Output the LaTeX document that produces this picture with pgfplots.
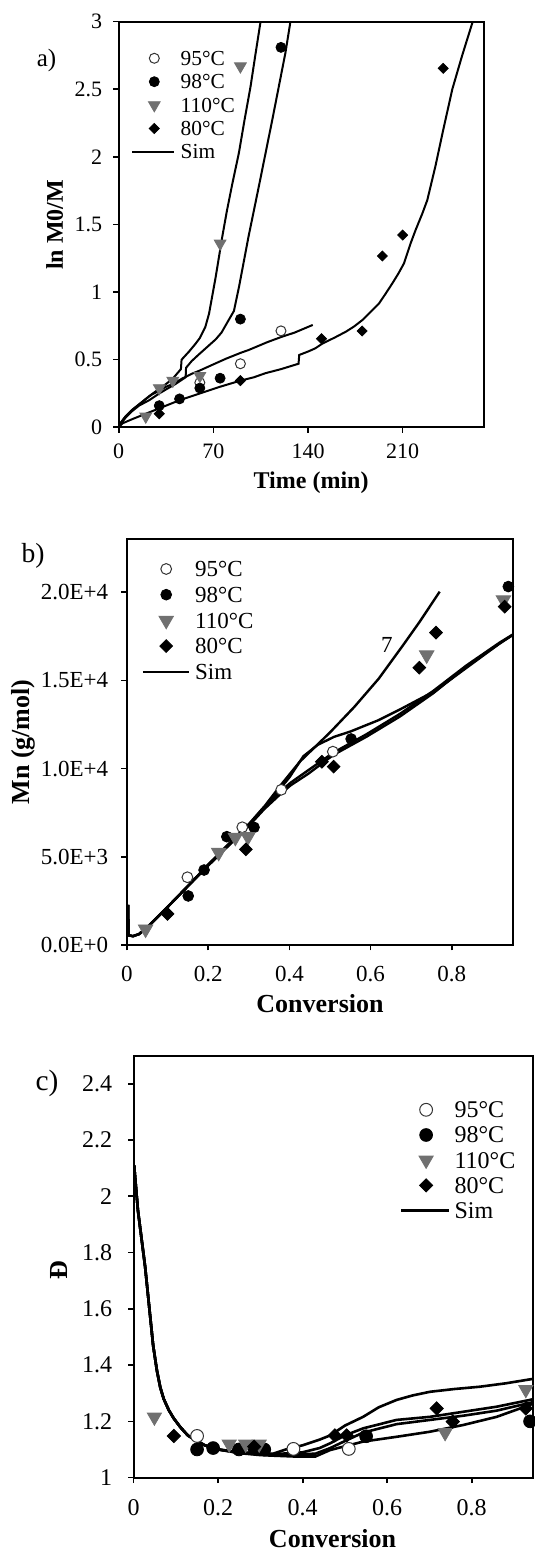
\documentclass[border=0pt]{standalone}
\usepackage{pgfplots}
\pgfplotsset{compat=1.18}
\usepackage{fontspec}
\setmainfont{Liberation Serif}
\definecolor{trigray}{RGB}{112,112,112}
\pgfplotsset{
  base/.style={scale only axis, axis line style={line width=1pt},
    tick style={black, line width=0.8pt}, tick align=outside, major tick length=2.75pt,
    tick pos=left, /pgf/number format/assume math mode=true,
    xticklabel style={anchor=north, inner sep=0pt},
    yticklabel style={anchor=east, inner sep=0pt},
    scaled ticks=false, legend cell align=left},
  lgm/.style={legend image code/.code={\draw[##1] plot coordinates {(#1,0pt)};}},
  lgl/.style={legend image code/.code={\draw[##1] (0pt,0pt) -- (#1,0pt);}},
  oc/.style={only marks, mark=*, mark size=#1, mark options={fill=white, draw=black!80, line width=0.5pt}},
  fc/.style={only marks, mark=*, mark size=#1, mark options={fill=black, draw=black}},
  tr/.style={only marks, mark=triangle*, mark size=#1, mark options={rotate=180, fill=trigray, draw=trigray}},
  dm/.style={only marks, mark=square*, mark size=#1, mark options={rotate=45, fill=black, draw=black}},
}
\begin{document}
\begin{tikzpicture}
\useasboundingbox (0pt,0pt) rectangle (267.5pt,776pt);
% ---------------- panel a
\begin{axis}[base, at={(59.35pt,562.35pt)}, anchor=south west,
  width=182.55pt, height=202.8pt, xmin=0, xmax=270, ymin=0, ymax=3,
  xtick={0,70,140,210}, ytick={0,0.5,1,1.5,2,2.5,3},
  tick label style={font=\fontsize{11}{13}\selectfont},
  xticklabel style={yshift=-5.5pt}, yticklabel style={xshift=-5.4pt},
  xlabel={Time (min)}, ylabel={ln M0/M},
  xlabel style={at={(axis description cs:0.527,-0.137)}, anchor=center, font=\fontsize{12}{14}\selectfont\bfseries},
  ylabel style={at={(axis description cs:-0.1756,0.499)}, anchor=center, font=\fontsize{12}{14}\selectfont\bfseries},
  legend style={draw=none, fill=none, at={(axis description cs:0.0337,0.9386)}, anchor=north west,
    inner sep=0pt, outer sep=0pt, row sep=0pt, column sep=3pt, font=\fontsize{10.7}{12}\selectfont,
    nodes={inner sep=0pt, text height=9.39pt, text depth=2.31pt}},
]
\addplot[black, line width=1pt, forget plot] coordinates {(0,0) (2,0.04) (5,0.08) (9,0.12) (13,0.15) (18,0.19) (22.5,0.23) (28,0.27) (35,0.32) (40,0.36) (46,0.43) (46.5,0.50) (52,0.56) (57,0.62) (60,0.66) (64,0.74) (66.8,0.84) (71.7,1.11) (76.6,1.41) (80,1.60) (84,1.80) (88.9,2.03) (93,2.27) (97.5,2.52) (101,2.75) (104.9,3.0)};
\addplot[black, line width=1pt, forget plot] coordinates {(0,0) (2,0.03) (5,0.07) (10,0.12) (15,0.16) (22.5,0.20) (30,0.25) (35,0.28) (42,0.32) (49.5,0.37) (49.8,0.44) (54,0.49) (59.4,0.54) (65,0.59) (71.7,0.65) (76,0.70) (80,0.77) (85.2,0.86) (89,1.04) (96,1.41) (103.6,1.78) (113.5,2.27) (123.3,2.77) (127,3.0)};
\addplot[black, line width=1pt, forget plot] coordinates {(0,0) (2,0.04) (5,0.08) (10,0.13) (15,0.17) (20,0.21) (25,0.245) (30,0.27) (35,0.30) (40,0.32) (47.2,0.362) (55,0.40) (60,0.42) (71.7,0.473) (80,0.51) (90,0.55) (96.2,0.572) (110,0.63) (120.8,0.67) (130,0.70) (143.5,0.757)};
\addplot[black, line width=1pt, forget plot] coordinates {(0,0) (3,0.03) (10,0.06) (20,0.10) (30,0.14) (45,0.20) (60,0.25) (75,0.30) (90,0.345) (100,0.37) (108.5,0.40) (120,0.43) (133,0.47) (133.5,0.535) (140,0.56) (145.4,0.584) (150.8,0.62) (160,0.665) (168,0.707) (174,0.745) (180.3,0.794) (186,0.85) (192.6,0.917) (197.5,0.99) (202.4,1.065) (207,1.14) (211,1.213) (215.9,1.361) (219.6,1.46) (224.5,1.58) (228.2,1.68) (234.2,1.93) (240,2.2) (246.7,2.5) (254,2.75) (261.8,3.0)};
\addplot[oc=2.5pt, lgm=11.15pt] coordinates {(60,0.33) (90,0.47) (120,0.713)};
\addlegendentry{95°C}
\addplot[fc=2.5pt, lgm=11.15pt] coordinates {(30,0.16) (45,0.21) (60,0.29) (75,0.363) (90,0.80) (120,2.81)};
\addlegendentry{98°C}
\addplot[tr=3.4pt, lgm=11.15pt] coordinates {(20,0.08) (30,0.29) (40,0.345) (60,0.38) (75,1.36) (90,2.67)};
\addlegendentry{110°C}
\addplot[dm=1.77pt, lgm=11.15pt] coordinates {(30,0.10) (90,0.345) (150,0.655) (180,0.712) (195,1.267) (210,1.422) (240,2.655)};
\addlegendentry{80°C}
\addlegendimage{black, line width=1pt, lgl=20.85pt}
\addlegendentry{Sim}
\end{axis}
% ---------------- panel b
\begin{axis}[base, at={(63.45pt,303.5pt)}, anchor=south west,
  width=192.95pt, height=202.85pt, xmin=0, xmax=0.95, ymin=0, ymax=23000,
  xtick={0,0.2,0.4,0.6,0.8}, ytick={0,5000,10000,15000,20000},
  yticklabels={0.0E+0,5.0E+3,1.0E+4,1.5E+4,2.0E+4},
  tick label style={font=\fontsize{11.5}{13}\selectfont},
  xticklabel style={yshift=-7.45pt}, yticklabel style={xshift=-6.45pt},
  xlabel={Conversion}, ylabel={Mn (g/mol)},
  xlabel style={at={(axis description cs:0.5004,-0.1454)}, anchor=center, font=\fontsize{13}{15}\selectfont\bfseries},
  ylabel style={at={(axis description cs:-0.269,0.5004)}, anchor=center, font=\fontsize{13}{15}\selectfont\bfseries},
  legend style={draw=none, fill=none, at={(axis description cs:0.0381,0.9585)}, anchor=north west,
    inner sep=0pt, outer sep=0pt, row sep=0pt, column sep=2.6pt, font=\fontsize{11.5}{13}\selectfont,
    nodes={inner sep=0pt, text height=10.24pt, text depth=2.61pt}},
]
\addplot[black, line width=1.2pt, forget plot] coordinates {(0,2200) (0.003,2200) (0.004,550) (0.015,500) (0.03,620) (0.05,1000) (0.1,2150) (0.157,3500) (0.2,4550) (0.264,6050) (0.3,6850) (0.34,7900) (0.38,9100) (0.426,10400) (0.5,12050) (0.56,13500) (0.62,15100) (0.68,17000) (0.72,18300) (0.77,20030)};
\addplot[black, line width=1.2pt, forget plot] coordinates {(0,2200) (0.003,2200) (0.004,550) (0.015,500) (0.03,620) (0.05,1000) (0.1,2150) (0.157,3500) (0.2,4550) (0.264,6000) (0.3,6800) (0.35,8100) (0.4,9500) (0.4345,10700) (0.47,11350) (0.51,11800) (0.55,12100) (0.62,12750) (0.672,13350) (0.75,14300) (0.795,15020) (0.85,15950) (0.918,17100) (0.95,17580)};
\addplot[black, line width=1.2pt, forget plot] coordinates {(0,2200) (0.003,2200) (0.004,550) (0.015,500) (0.03,620) (0.05,1000) (0.1,2150) (0.157,3500) (0.2,4500) (0.264,5950) (0.3,6750) (0.338,7700) (0.38,8600) (0.403,9050) (0.446,9700) (0.508,10770) (0.59,11810) (0.672,12950) (0.754,14270) (0.836,15780) (0.918,17100) (0.95,17580)};
\addplot[black, line width=1.2pt, forget plot] coordinates {(0,2200) (0.003,2200) (0.004,550) (0.015,500) (0.03,620) (0.05,1000) (0.1,2150) (0.157,3500) (0.2,4500) (0.264,5950) (0.3,6800) (0.338,7800) (0.38,8750) (0.403,9200) (0.446,9900) (0.508,10900) (0.59,11950) (0.672,13100) (0.754,14400) (0.836,15850) (0.918,17150) (0.95,17600)};
\node[font=\fontsize{11.5}{13}\selectfont] at (axis cs:0.64,17010) {7};
\addplot[oc=2.7pt, lgm=11.7pt] coordinates {(0.149,3840) (0.284,6675) (0.38,8800) (0.507,10960)};
\addlegendentry{95°C}
\addplot[fc=2.7pt, lgm=11.7pt] coordinates {(0.151,2780) (0.19,4250) (0.246,6140) (0.313,6670) (0.552,11680) (0.939,20320)};
\addlegendentry{98°C}
\addplot[tr=4.2pt, lgm=11.7pt] coordinates {(0.046,900) (0.226,5250) (0.267,6100) (0.298,6140) (0.738,16440) (0.927,19560)};
\addlegendentry{110°C}
\addplot[dm=2.25pt, lgm=11.7pt] coordinates {(0.10,1760) (0.293,5420) (0.48,10390) (0.509,10110) (0.72,15720) (0.761,17710) (0.93,19180)};
\addlegendentry{80°C}
\addlegendimage{black, line width=1.2pt, lgl=23pt}
\addlegendentry{Sim}
\end{axis}
% ---------------- panel c
\begin{axis}[base, at={(66.85pt,37.2pt)}, anchor=south west,
  width=199.65pt, height=211pt, xmin=0, xmax=0.945, ymin=1, ymax=2.5,
  xtick={0,0.2,0.4,0.6,0.8}, ytick={1,1.2,1.4,1.6,1.8,2,2.2,2.4},
  tick label style={font=\fontsize{12}{14}\selectfont},
  xticklabel style={yshift=-7.95pt}, yticklabel style={xshift=-7.8pt},
  xlabel={Conversion}, ylabel={Ð},
  xlabel style={at={(axis description cs:0.498,-0.144)}, anchor=center, font=\fontsize{13}{15}\selectfont\bfseries},
  ylabel style={at={(axis description cs:-0.187,0.492)}, anchor=center, font=\fontsize{13}{15}\selectfont\bfseries},
  legend style={draw=none, fill=none, at={(axis description cs:0.6667,0.9014)}, anchor=north west,
    inner sep=0pt, outer sep=0pt, row sep=0pt, column sep=2.2pt, font=\fontsize{12}{14}\selectfont,
    nodes={inner sep=0pt, text height=10.27pt, text depth=2.33pt}},
]
\addplot[black, line width=1.3pt, forget plot] coordinates {(0.001,2.11) (0.01,1.95) (0.027,1.75) (0.046,1.47) (0.055,1.38) (0.063,1.32) (0.071,1.28) (0.083,1.24) (0.095,1.21) (0.11,1.18) (0.128,1.15) (0.15,1.13) (0.168,1.115) (0.2,1.10) (0.25,1.09) (0.3,1.086) (0.33,1.085) (0.36,1.10) (0.4,1.115) (0.44,1.135) (0.465,1.15) (0.5,1.185) (0.543,1.216) (0.58,1.25) (0.622,1.276) (0.66,1.292) (0.701,1.305) (0.76,1.315) (0.819,1.323) (0.88,1.335) (0.937,1.349) (0.95,1.352)};
\addplot[black, line width=1.3pt, forget plot] coordinates {(0.001,2.11) (0.01,1.95) (0.027,1.75) (0.046,1.47) (0.055,1.38) (0.063,1.32) (0.071,1.28) (0.083,1.24) (0.095,1.21) (0.11,1.18) (0.128,1.15) (0.15,1.13) (0.168,1.115) (0.2,1.10) (0.25,1.09) (0.3,1.085) (0.33,1.083) (0.4,1.09) (0.44,1.105) (0.465,1.122) (0.5,1.15) (0.543,1.175) (0.622,1.205) (0.701,1.216) (0.78,1.234) (0.859,1.252) (0.95,1.28)};
\addplot[black, line width=1.3pt, forget plot] coordinates {(0.001,2.11) (0.01,1.95) (0.027,1.75) (0.046,1.47) (0.055,1.38) (0.063,1.32) (0.071,1.28) (0.083,1.24) (0.095,1.21) (0.11,1.18) (0.128,1.15) (0.15,1.13) (0.168,1.115) (0.2,1.10) (0.25,1.088) (0.3,1.082) (0.33,1.08) (0.43,1.085) (0.465,1.105) (0.5,1.13) (0.543,1.16) (0.622,1.19) (0.701,1.205) (0.78,1.22) (0.859,1.238) (0.95,1.27)};
\addplot[black, line width=1.3pt, forget plot] coordinates {(0.001,2.11) (0.01,1.95) (0.027,1.75) (0.046,1.47) (0.055,1.38) (0.063,1.32) (0.071,1.28) (0.083,1.24) (0.095,1.21) (0.11,1.18) (0.128,1.15) (0.15,1.13) (0.168,1.115) (0.2,1.10) (0.25,1.087) (0.3,1.08) (0.33,1.078) (0.38,1.075) (0.43,1.075) (0.465,1.098) (0.543,1.128) (0.622,1.145) (0.701,1.163) (0.78,1.187) (0.859,1.216) (0.95,1.265)};
\addplot[oc=3.2pt, lgm=12.45pt] coordinates {(0.15,1.148) (0.378,1.102) (0.509,1.102)};
\addlegendentry{95°C}
\addplot[fc=3.2pt, lgm=12.45pt] coordinates {(0.15,1.10) (0.188,1.105) (0.249,1.10) (0.285,1.105) (0.309,1.10) (0.55,1.147) (0.938,1.20)};
\addlegendentry{98°C}
\addplot[tr=4.1pt, lgm=12.45pt] coordinates {(0.049,1.215) (0.226,1.119) (0.265,1.119) (0.297,1.119) (0.737,1.16) (0.928,1.313)};
\addlegendentry{110°C}
\addplot[dm=2.35pt, lgm=12.45pt] coordinates {(0.095,1.148) (0.285,1.11) (0.476,1.15) (0.504,1.15) (0.717,1.246) (0.755,1.199) (0.928,1.246)};
\addlegendentry{80°C}
\addlegendimage{black, line width=1.3pt, lgl=23.85pt}
\addlegendentry{Sim}
\end{axis}
\node[font=\fontsize{12.5}{14}\selectfont] at (23.25pt,745.5pt) {a)};
\node[font=\fontsize{13.8}{15}\selectfont] at (16.5pt,498pt) {b)};
\node[font=\fontsize{14.7}{16}\selectfont] at (23.5pt,234.25pt) {c)};
\end{tikzpicture}
\end{document}
